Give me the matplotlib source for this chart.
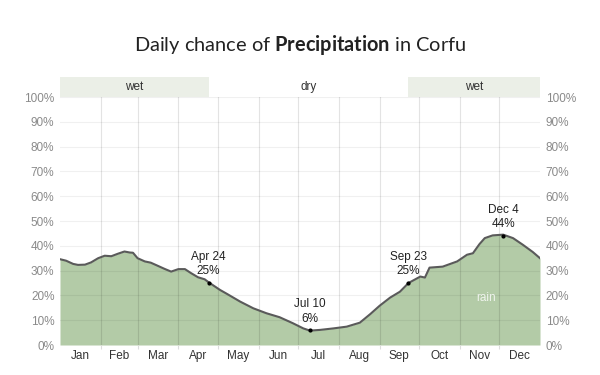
import numpy as np
import matplotlib
matplotlib.use("Agg")
import matplotlib.pyplot as plt
import matplotlib.transforms as mtransforms
from matplotlib.patches import Rectangle

# daily chance of precipitation (day of year, percent)
DAYS = [0, 4.6, 10, 13.7, 19, 23.6, 29, 34, 39, 44, 49, 53, 55.5, 59, 64.5,
        69, 74.5, 79.5, 84.5, 90, 95, 99.6, 105, 110, 113, 121.7, 127, 137,
        147, 157, 167, 177, 185, 190, 198, 208, 218, 228, 236, 243, 251,
        258.5, 265, 274, 277.5, 281, 291, 302, 309.5, 314, 319, 323, 329,
        337, 344.5, 352, 359.5, 365]
CHANCE = [34.6, 34.0, 32.7, 32.3, 32.4, 33.3, 35.0, 36.0, 35.8, 36.8, 37.7,
          37.3, 37.2, 35.0, 33.7, 33.2, 31.9, 30.7, 29.6, 30.6, 30.6, 29.0,
          27.3, 26.5, 25.3, 22.2, 20.6, 17.5, 14.8, 12.8, 11.2, 8.8, 6.7, 5.8,
          6.1, 6.7, 7.4, 9.0, 12.5, 15.8, 19.1, 21.5, 25.0, 27.6, 27.2, 31.2,
          31.6, 33.7, 36.4, 37.0, 40.7, 43.1, 44.2, 44.5, 43.1, 40.4, 37.5,
          35.0]

MONTHS = ["Jan", "Feb", "Mar", "Apr", "May", "Jun",
          "Jul", "Aug", "Sep", "Oct", "Nov", "Dec"]
MONTH_START = [0, 31, 59, 90, 120, 151, 181, 212, 243, 273, 304, 334, 365]

# seasons: (start day, end day, label, shaded)
SEASONS = [(0, 113, "wet", True), (113, 265, "dry", False), (265, 365, "wet", True)]

# highlighted points: (day, percent, label)
MARKS = [(113, 25, "Apr 24\n25%"), (190, 6, "Jul 10\n6%"),
         (265, 25, "Sep 23\n25%"), (337, 44, "Dec 4\n44%")]

FILL = "#b3cba7"
LINE = "#5a5a5a"
BAND = "#ebefe7"
TICK_GREY = "#8a8a8a"

plt.rcParams["mathtext.fontset"] = "custom"
plt.rcParams["mathtext.rm"] = "Lato"
plt.rcParams["mathtext.bf"] = "Lato:bold"

fig = plt.figure(figsize=(6, 3.75), dpi=100)
ax = fig.add_axes([0.1, 0.08, 0.8, 0.6613])

ax.fill_between(DAYS, CHANCE, 0, color=FILL, lw=0, zorder=1)
ax.plot(DAYS, CHANCE, color=LINE, lw=1.5, zorder=4)

ax.set_xlim(0, 365)
ax.set_ylim(0, 100)

# grid
for y in range(10, 101, 10):
    ax.axhline(y, color="#000000", alpha=0.06, lw=0.8, zorder=2)
for d in MONTH_START[1:-1]:
    ax.axvline(d, color="#000000", alpha=0.11, lw=0.8, zorder=2)

for s in ax.spines.values():
    s.set_visible(False)

ax.set_xticks(MONTH_START[1:-1])
ax.set_xticklabels([])
ax.tick_params(axis="x", which="major", length=3, color="#dddddd")
mids = [(MONTH_START[i] + MONTH_START[i + 1]) / 2 for i in range(12)]
ax.set_xticks(mids, minor=True)
ax.set_xticklabels(MONTHS, minor=True, fontsize=8.5, color="#333333",
                   family="Liberation Sans")
ax.tick_params(axis="x", which="minor", length=0, pad=3.5)

yt = list(range(0, 101, 10))
ax.set_yticks(yt)
ax.set_yticklabels([f"{v}%" for v in yt], fontsize=8.5, color=TICK_GREY,
                   family="Liberation Sans")
ax.tick_params(axis="y", length=0, pad=4, labelright=True)

# season bands above the plot
trans = mtransforms.blended_transform_factory(ax.transData, ax.transAxes)
for start, end, label, shaded in SEASONS:
    if shaded:
        ax.add_patch(Rectangle((start, 1.0), end - start, 0.0806,
                               transform=trans, color=BAND, lw=0,
                               clip_on=False))
    ax.text((start + end) / 2, 1.0403, label, transform=trans, ha="center",
            va="center", fontsize=8.5, color="#333333",
            family="Liberation Sans")

# highlighted points
for d, v, label in MARKS:
    ax.plot(d, v, "o", ms=2, color="black", zorder=5)
    ax.annotate(label, (d, v), xytext=(0, 4), textcoords="offset points",
                ha="center", va="bottom", fontsize=8.5, color="#222222",
                family="Liberation Sans", linespacing=1.25, zorder=6)

ax.text(324, 19, "rain", ha="center", va="center", fontsize=8.5,
        color="white", alpha=0.8, family="Liberation Sans", zorder=6)

fig.text(0.5, 0.88, "Daily chance of $\\mathbf{Precipitation}$ in Corfu",
         ha="center", va="center", fontsize=14.4, color="#222222",
         family="Lato")

fig.savefig("out.png", dpi=100)
